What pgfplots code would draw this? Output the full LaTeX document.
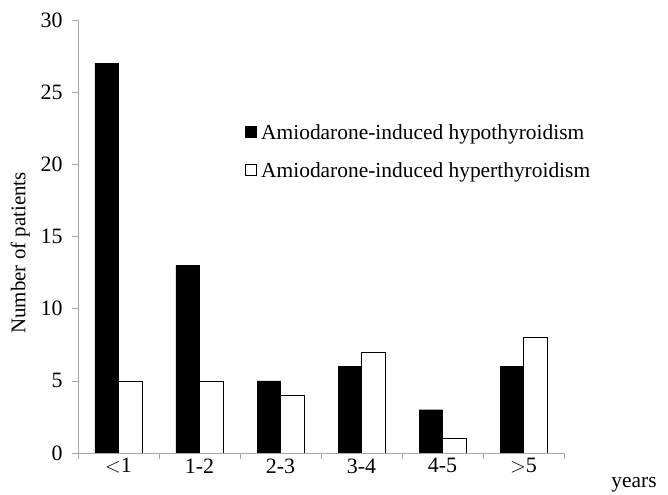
\documentclass[border=0pt]{standalone}
\usepackage{fontspec}
\setmainfont{Liberation Serif}
\usepackage{pgfplots}
\pgfplotsset{compat=1.18}
\begin{document}
\begin{tikzpicture}
\useasboundingbox (-78bp,-42bp) rectangle (590bp,453bp);
\begin{axis}[
    scale only axis,
    width=486bp, height=433bp,
    ybar=0pt, bar width=23.5bp,
    xmin=-0.5, xmax=5.5,
    ymin=0, ymax=30,
    ytick={0,5,...,30},
    xtick={-0.5,0.5,...,5.5},
    x tick label as interval,
    xticklabels={{$<$1},{1-2},{2-3},{3-4},{4-5},{$>$5}},
    axis x line=bottom, axis y line=left,
    axis line style={gray!70, -},
    tick style={gray!70, line width=0.6pt},
    tick align=outside,
    major tick length=6bp,
    /pgf/number format/assume math mode=true,
    tick label style={font=\fontsize{22}{24}\selectfont},
    yticklabel style={xshift=-6bp},
    xticklabel style={yshift=4bp},
    ylabel={Number of patients},
    ylabel style={font=\fontsize{21}{24}\selectfont, at={(axis description cs:-0.119,0.462)}, anchor=center},
    xlabel={years},
    xlabel style={font=\fontsize{21.5}{24}\selectfont, at={(axis description cs:1.144,-0.074)}, anchor=center},
    legend style={draw=none, fill=none, font=\fontsize{21.5}{24}\selectfont,
        at={(0.337,0.768)}, anchor=north west, row sep=18bp,
        legend cell align=left},
    legend image code/.code={\draw[#1, line width=0.5pt] (0bp,-4bp) rectangle (11bp,7bp);
        \path[draw=none, fill=none] (0bp,0bp) -- (14bp,0bp);},
]
\addplot[fill=black, draw=black] coordinates {(0,27) (1,13) (2,5) (3,6) (4,3) (5,6)};
\addplot[fill=white, draw=black, line width=0.6pt] coordinates {(0,5) (1,5) (2,4) (3,7) (4,1) (5,8)};
\legend{Amiodarone-induced hypothyroidism, Amiodarone-induced hyperthyroidism}
\end{axis}
\end{tikzpicture}
\end{document}
